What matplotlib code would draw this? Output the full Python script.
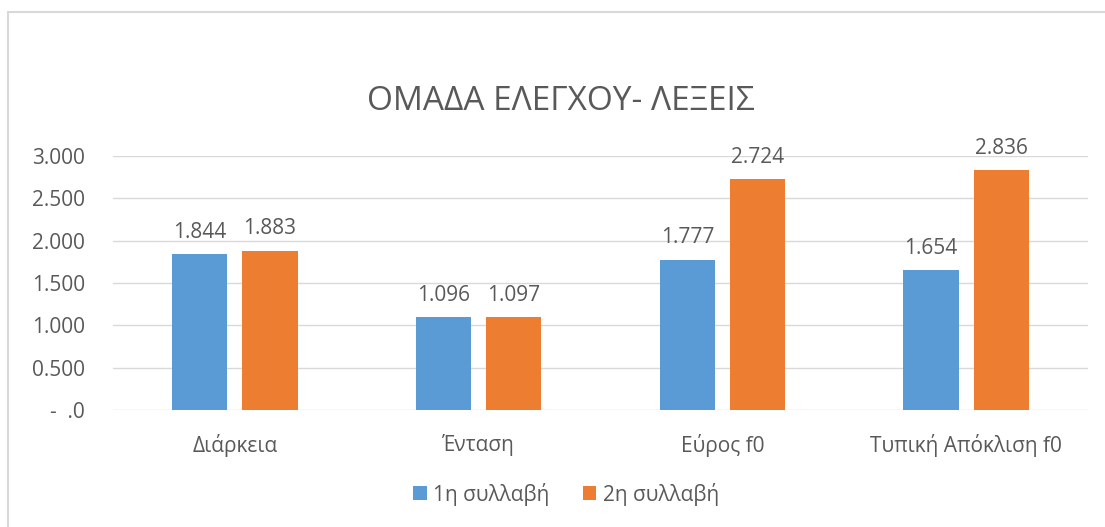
import numpy as np
import matplotlib
matplotlib.use("Agg")
import matplotlib.pyplot as plt
from matplotlib.lines import Line2D
from matplotlib.ticker import FuncFormatter

# Δεδομένα του γραφήματος
categories = ["Διάρκεια", "Ένταση", "Εύρος f0", "Τυπική Απόκλιση f0"]
syllable_1 = [1.844, 1.096, 1.777, 1.654]
syllable_2 = [1.883, 1.097, 2.724, 2.836]
series_labels = ["1η συλλαβή", "2η συλλαβή"]
title = "ΟΜΑΔΑ ΕΛΕΓΧΟΥ- ΛΕΞΕΙΣ"

BLUE = "#5B9BD5"
ORANGE = "#ED7D31"
TEXT = "#595959"
GRID = "#D9D9D9"
FS = 15

plt.rcParams["font.family"] = ["Open Sans", "DejaVu Sans"]

fig = plt.figure(figsize=(11.05, 5.27), dpi=100)
ax = fig.add_axes([113 / 1105, 1 - 410 / 527, (1088 - 113) / 1105, (410 - 156) / 527])

# πλαίσιο του γραφήματος (μόνο αριστερά και πάνω, όπως στο αρχικό)
fig.add_artist(Line2D([8 / 1105, 8 / 1105], [0, 1 - 12 / 527], transform=fig.transFigure,
                      color="#D9D9D9", lw=1.5))
fig.add_artist(Line2D([8 / 1105, 1], [1 - 12 / 527, 1 - 12 / 527], transform=fig.transFigure,
                      color="#D9D9D9", lw=1.5))

x = np.arange(len(categories))
width = 0.226
offset = 0.144

bars1 = ax.bar(x - offset, syllable_1, width, color=BLUE, label=series_labels[0], zorder=3)
bars2 = ax.bar(x + offset, syllable_2, width, color=ORANGE, label=series_labels[1], zorder=3)

for bars in (bars1, bars2):
    for b in bars:
        ax.annotate(f"{b.get_height():.3f}", (b.get_x() + b.get_width() / 2, b.get_height()),
                    xytext=(0, 8), textcoords="offset points", ha="center", va="bottom",
                    fontsize=FS, color=TEXT)

ax.set_xlim(-0.5, len(categories) - 0.5)
ax.set_ylim(0, 3.0)
ax.set_yticks(np.arange(0, 3.01, 0.5))
ax.yaxis.set_major_formatter(FuncFormatter(lambda v, p: "-  .0" if v == 0 else f"{v:.3f}"))
ax.set_xticks(x)
ax.set_xticklabels(categories)

ax.grid(axis="y", color=GRID, lw=1, zorder=0)
for s in ax.spines.values():
    s.set_visible(False)
ax.tick_params(axis="y", length=0, pad=20, labelsize=FS, labelcolor=TEXT)
ax.tick_params(axis="x", length=0, pad=17, labelsize=FS, labelcolor=TEXT)

fig.text(561 / 1105, 1 - 102 / 527, title, ha="center", va="center", fontsize=24, color=TEXT)

fig.legend(handles=[bars1, bars2], labels=series_labels, loc="center",
           bbox_to_anchor=(566 / 1105, 1 - 494 / 527), ncol=2, frameon=False,
           fontsize=FS, labelcolor=TEXT, handlelength=0.65, handleheight=0.65,
           handletextpad=0.3, columnspacing=1.6)

fig.savefig("out.png", dpi=100, facecolor="white")
